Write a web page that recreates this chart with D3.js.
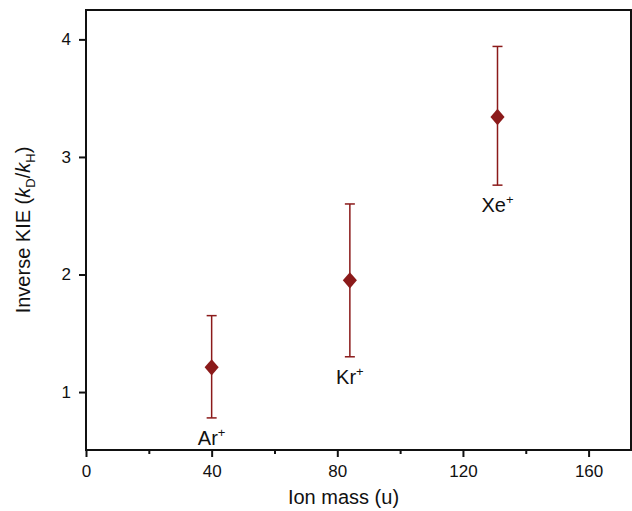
<!DOCTYPE html><html><head><meta charset="utf-8"><script src="https://cdn.jsdelivr.net/npm/d3@7"></script>
<style>body{margin:0;background:#fff}text{font-family:Arial,"Liberation Sans",sans-serif}</style></head><body><svg width="632" height="511"></svg><script>
const labels=["Ar","Kr","Xe"];
const mass=[40,84,131];
const kie=[1.21,1.95,3.34];
const errHi=[1.65,2.60,3.94];
const errLo=[0.78,1.30,2.76];
const xTicks=[0,40,80,120,160];
const yTicks=[1,2,3,4];
const svg=d3.select("svg");
const L=86,R=631,T=10,B=450;
const x=d3.scaleLinear().domain([0,173.5]).range([L,R]);
const y=d3.scaleLinear().domain([0.507,4.25]).range([B,T]);
const col="#8b1a1a";
svg.append("rect").attr("x",L).attr("y",T).attr("width",R-L).attr("height",B-T).attr("fill","none").attr("stroke","#111").attr("stroke-width",2);
svg.append("g").attr("transform",`translate(0,${B})`).call(d3.axisBottom(x).tickValues(xTicks).tickSize(7).tickPadding(8));
svg.append("g").attr("transform",`translate(0,${B})`).call(d3.axisBottom(x).tickValues([20,60,100,140]).tickSize(4).tickFormat(""));
svg.append("g").attr("transform",`translate(${L},0)`).call(d3.axisLeft(y).tickValues(yTicks).tickSize(7).tickPadding(8).tickFormat(d3.format("d")));
svg.selectAll(".domain").remove();
svg.selectAll(".tick line").attr("stroke","#111").attr("stroke-width",2);
svg.selectAll(".tick text").attr("font-size",17).attr("fill","#111");
svg.append("text").attr("x",(L+R)/2-15).attr("y",504).attr("text-anchor","middle").attr("font-size",20).attr("fill","#111").text("Ion mass (u)");
const yl=svg.append("text").attr("transform",`translate(30,${(T+B)/2}) rotate(-90)`).attr("text-anchor","middle").attr("font-size",20).attr("fill","#111");
yl.append("tspan").text("Inverse KIE (");
yl.append("tspan").attr("font-style","italic").text("k");
yl.append("tspan").attr("font-size",13).attr("dy",5).text("D");
yl.append("tspan").attr("dy",-5).text("/");
yl.append("tspan").attr("font-style","italic").text("k");
yl.append("tspan").attr("font-size",13).attr("dy",5).text("H");
yl.append("tspan").attr("dy",-5).text(")");
const g=svg.selectAll(".pt").data(mass.map((m,i)=>({m,v:kie[i],hi:errHi[i],lo:errLo[i],l:labels[i]}))).enter().append("g");
g.append("line").attr("x1",d=>x(d.m)).attr("x2",d=>x(d.m)).attr("y1",d=>y(d.hi)).attr("y2",d=>y(d.lo)).attr("stroke",col).attr("stroke-width",1.5);
["hi","lo"].forEach(k=>g.append("line").attr("x1",d=>x(d.m)-5).attr("x2",d=>x(d.m)+5).attr("y1",d=>y(d[k])).attr("y2",d=>y(d[k])).attr("stroke",col).attr("stroke-width",1.5));
g.append("path").attr("d",d3.symbol(d3.symbolSquare,110)).attr("transform",d=>`translate(${x(d.m)},${y(d.v)}) scale(0.95,1.1) rotate(45)`).attr("fill",col);
const t=g.append("text").attr("x",d=>x(d.m)).attr("y",d=>y(d.lo)+27).attr("text-anchor","middle").attr("font-size",20).attr("fill","#111");
t.append("tspan").text(d=>d.l);
t.append("tspan").attr("font-size",13).attr("dy",-8).text("+");
</script></body></html>
